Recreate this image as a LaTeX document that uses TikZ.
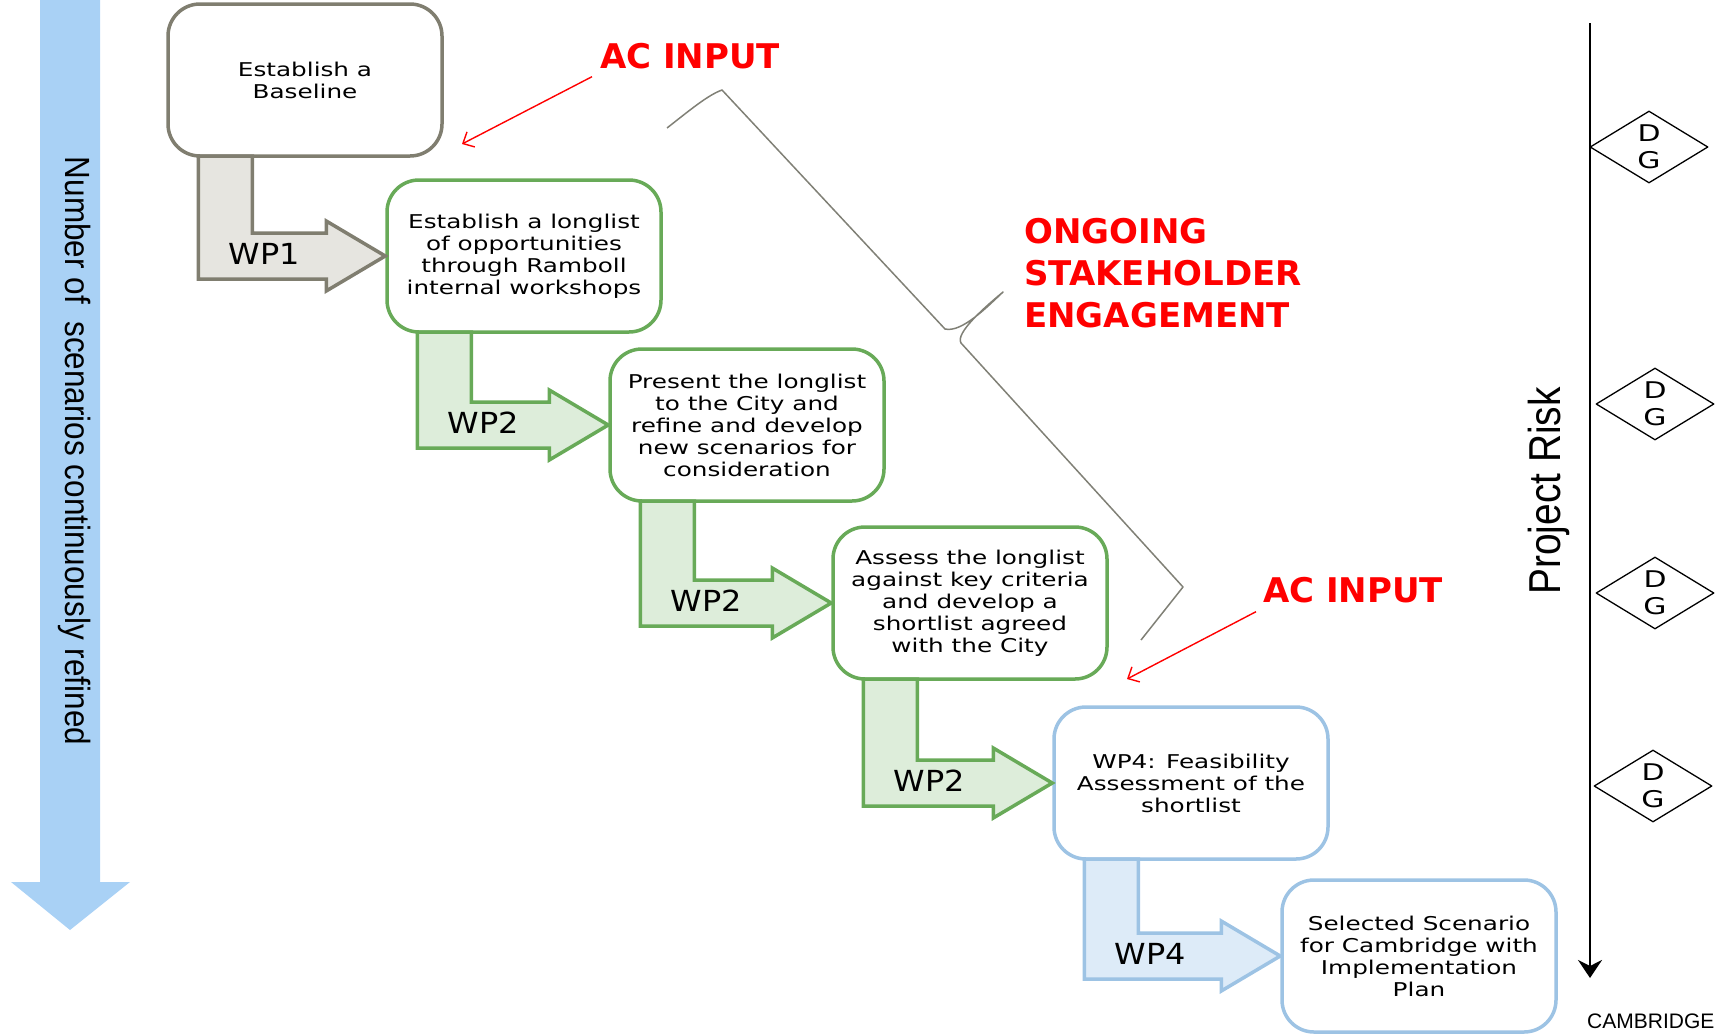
\documentclass[tikz,border=0pt]{standalone}
\usepackage{fontspec}
\usetikzlibrary{arrows.meta,calc,shapes.geometric}

\newfontfamily\boxfont[FakeStretch=1.3]{DejaVu Sans}
\newfontfamily\wpfont[FakeStretch=1.1]{DejaVu Sans}
\newfontfamily\redfont{DejaVu Sans}
\newfontfamily\sidefont[FakeStretch=0.9]{Liberation Sans}
\newfontfamily\riskfont[FakeStretch=0.87]{Liberation Sans}
\newfontfamily\camfont{Liberation Sans}

\definecolor{greyline}{RGB}{128,126,112}
\definecolor{greyfill}{RGB}{230,229,224}
\definecolor{greenline}{RGB}{104,170,88}
\definecolor{greenfill}{RGB}{221,237,218}
\definecolor{blueline}{RGB}{157,195,228}
\definecolor{bluefill}{RGB}{221,235,248}
\definecolor{sidearrow}{RGB}{169,209,245}
\definecolor{braceline}{RGB}{128,128,118}

\begin{document}
\begin{tikzpicture}[x=1pt, y=-1pt, line join=round,
  stepbox/.style={draw, line width=3.5pt, fill=white, rounded corners=32pt,
    minimum width=274pt, minimum height=152pt, inner sep=0pt, align=center,
    font=\boxfont\fontsize{19}{22}\selectfont},
  greybox/.style={stepbox, draw=greyline},
  greenbox/.style={stepbox, draw=greenline},
  bluebox/.style={stepbox, draw=blueline},
  greyarrow/.style={draw=greyline, fill=greyfill, line width=3.5pt, line join=miter},
  greenarrow/.style={draw=greenline, fill=greenfill, line width=3.5pt, line join=miter},
  bluearrow/.style={draw=blueline, fill=bluefill, line width=3.5pt, line join=miter},
  wplabel/.style={inner sep=0pt, font=\wpfont\fontsize{29}{34}\selectfont},
  redtext/.style={text=red, inner sep=0pt, align=left, font=\redfont\bfseries\fontsize{34}{42}\selectfont},
  redarrow/.style={draw=red, line width=1.4pt, -{Straight Barb[length=9pt,width=17pt]}},
  dgate/.style={draw, diamond, line width=1.3pt, minimum width=118pt, minimum height=72pt,
    inner sep=0pt, align=center, font=\boxfont\fontsize{23}{27}\selectfont},
  riskline/.style={line width=2.5pt, -{Stealth[length=18pt,width=24pt,inset=6pt]}}]

  %% ════ 左侧大箭头 ════
  \fill[sidearrow] (40,0) -- (100,0) -- (100,882) -- (130,882) -- (70,930) -- (11,882) -- (40,882) -- cycle;
  \node[rotate=-90, anchor=base, inner sep=0pt, font=\sidefont\fontsize{35}{40}\selectfont] (scen) at (65,451) {Number of~~scenarios continuously refined};

  %% ════ 方框 ════
  \node[greybox]  (b1) at (305,80)  {Establish a\\Baseline};
  \node[greenbox] (b2) at (524,256) {Establish a longlist\\of opportunities\\through Ramboll\\internal workshops};
  \node[greenbox] (b3) at (747,425) {Present the longlist\\to the City and\\refine and develop\\new scenarios for\\consideration};
  \node[greenbox] (b4) at (970,603) {Assess the longlist\\against key criteria\\and develop a\\shortlist agreed\\with the City};
  \node[bluebox]  (b5) at (1191,783) {WP4: Feasibility\\Assessment of the\\shortlist};
  \node[bluebox]  (b6) at (1419,956) {Selected Scenario\\for Cambridge with\\Implementation\\Plan};

  %% ════ 折线箭头 WP ════
  \foreach \from/\to/\kind/\lbl in {b1/b2/greyarrow/WP1, b2/b3/greenarrow/WP2, b3/b4/greenarrow/WP2, b4/b5/greenarrow/WP2, b5/b6/bluearrow/WP4}{
    \coordinate (sl) at ($(\from.south west)+(32,-1.75)$);
    \coordinate (sr) at ($(sl)+(54,0)$);
    \coordinate (tip) at (\to.west);
    \coordinate (hb) at ($(tip)+(-59,0)$);
    \coordinate (st) at ($(tip)+(0,-23)$);
    \coordinate (sb) at ($(tip)+(0,23)$);
    \coordinate (ht) at ($(hb)+(0,-35)$);
    \coordinate (hd) at ($(hb)+(0,35)$);
    \draw[\kind] (sl) -- (sr) -- (sr |- st) -- (hb |- st) -- (ht) -- (tip) -- (hd) -- (hb |- sb) -- (sl |- sb) -- cycle;
    \coordinate (lb) at (sl |- tip);
    \node[wplabel] (wp\from) at ($(lb)+(66,-2)$) {\lbl};
  }

  %% ════ 红色标注 ════
  \node[redtext, anchor=base west] (ac1) at (600,68) {AC INPUT};
  \node[redtext, anchor=base west] (ac2) at (1263,602) {AC INPUT};
  \node[redtext, anchor=west] (ongoing) at (1024,273) {ONGOING\\STAKEHOLDER\\ENGAGEMENT};
  \coordinate (acin1) at (462,144);
  \coordinate (acin2) at (1127,679);
  \draw[redarrow] ($(ac1.south west)+(-8,8)$) -- (acin1);
  \draw[redarrow] ($(ac2.south west)+(-7,9)$) -- (acin2);

  %% ════ 大括号 ════
  \draw[braceline, line width=1.5pt] (667,128) .. controls (690,110) and (708,95) .. (722,90)
    -- (945,329) .. controls (962,333) and (988,306) .. (1003,292)
    .. controls (985,307) and (955,333) .. (961,343)
    -- (1183,587) -- (1141,640);

  %% ════ 右侧风险轴 ════
  \coordinate (risktop) at (1590,23);
  \coordinate (riskend) at (1590,978);
  \draw[riskline] (risktop) -- (riskend);
  \node[rotate=90, anchor=base, inner sep=0pt, font=\riskfont\fontsize{44.7}{50}\selectfont] (risk) at (1560,491) {Project Risk};
  \node[dgate] (dg1) at (1649,147) {D\\G};
  \node[dgate] (dg2) at (1655,404) {D\\G};
  \node[dgate] (dg3) at (1655,593) {D\\G};
  \node[dgate] (dg4) at (1653,786) {D\\G};
  \node[anchor=base west, inner sep=0pt, font=\camfont\fontsize{21}{24}\selectfont] (cam) at (1587,1028) {CAMBRIDGE};

  % 钉死画布
  \pgfresetboundingbox
  \path[use as bounding box] (0,0) rectangle (1716,1034);
\end{tikzpicture}
\end{document}
